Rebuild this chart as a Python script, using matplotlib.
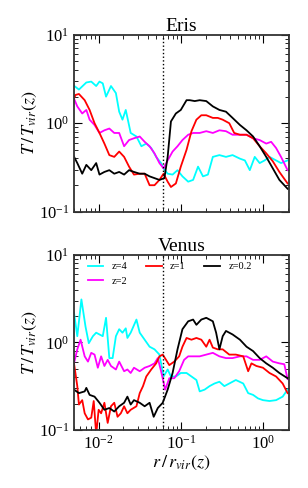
import numpy as np
from matplotlib import pyplot as plt

plt.rcParams['font.family'] = ['Liberation Serif', 'DejaVu Serif']
plt.rcParams['mathtext.fontset'] = 'stix'

# values, stored as log10(r/rvir) and log10(T/Tvir)
eris_z4_lr = [-2.31, -2.24, -2.15, -2.09, -2.03, -1.99, -1.95, -1.91, -1.85, -1.79, -1.75, -1.71, -1.67, -1.61, -1.54,
              -1.48, -1.42, -1.36, -1.30, -1.24, -1.21, -1.16, -1.10, -1.04, -0.98, -0.91, -0.85, -0.79, -0.73, -0.67,
              -0.61, -0.53, -0.45, -0.37, -0.28, -0.22, -0.16, -0.10, -0.04, 0.02, 0.08, 0.16, 0.22, 0.30]
eris_z4_lt = [0.43, 0.38, 0.46, 0.47, 0.42, 0.47, 0.45, 0.30, 0.42, 0.34, 0.13, 0.04, 0.15, -0.11, -0.15,
              -0.26, -0.23, -0.28, -0.38, -0.45, -0.51, -0.57, -0.58, -0.53, -0.60, -0.66, -0.64, -0.49, -0.60, -0.58,
              -0.38, -0.36, -0.38, -0.36, -0.40, -0.42, -0.53, -0.38, -0.45, -0.42, -0.38, -0.42, -0.45, -0.42]

eris_z2_lr = [-2.31, -2.26, -2.20, -2.15, -2.11, -2.05, -1.99, -1.93, -1.87, -1.81, -1.75, -1.69, -1.63, -1.57, -1.50,
              -1.44, -1.38, -1.32, -1.26, -1.21, -1.16, -1.10, -1.04, -0.98, -0.91, -0.85, -0.77, -0.69, -0.61, -0.53,
              -0.45, -0.37, -0.28, -0.20, -0.12, -0.04, 0.04, 0.10, 0.16, 0.22, 0.30]
eris_z2_lt = [0.30, 0.19, 0.11, 0.15, 0.04, -0.02, -0.11, -0.08, -0.06, -0.11, -0.11, -0.26, -0.19, -0.17, -0.15,
              -0.21, -0.26, -0.34, -0.45, -0.51, -0.42, -0.32, -0.26, -0.19, -0.13, -0.11, -0.11, -0.09, -0.11, -0.08,
              -0.09, -0.13, -0.13, -0.13, -0.17, -0.19, -0.23, -0.21, -0.28, -0.38, -0.53]

eris_z1_lr = [-2.31, -2.28, -2.24, -2.17, -2.11, -2.05, -1.99, -1.93, -1.87, -1.81, -1.75, -1.69, -1.63, -1.57, -1.50,
              -1.44, -1.38, -1.32, -1.26, -1.21, -1.16, -1.12, -1.06, -1.00, -0.93, -0.87, -0.81, -0.75, -0.69, -0.61,
              -0.55, -0.49, -0.41, -0.35, -0.28, -0.20, -0.12, -0.04, 0.04, 0.12, 0.20, 0.30]
eris_z1_lt = [0.26, 0.32, 0.33, 0.26, 0.15, 0.00, -0.11, -0.23, -0.36, -0.38, -0.32, -0.38, -0.49, -0.58, -0.57,
              -0.57, -0.70, -0.70, -0.64, -0.57, -0.66, -0.72, -0.68, -0.49, -0.30, -0.09, 0.04, 0.09, 0.09, 0.06,
              0.06, 0.04, 0.00, -0.11, -0.13, -0.13, -0.17, -0.26, -0.34, -0.43, -0.55, -0.68]

eris_z02_lr = [-2.31, -2.26, -2.20, -2.15, -2.09, -2.03, -1.99, -1.93, -1.87, -1.81, -1.75, -1.69, -1.63, -1.57, -1.50,
               -1.44, -1.38, -1.32, -1.26, -1.20, -1.16, -1.12, -1.06, -1.00, -0.93, -0.89, -0.83, -0.77, -0.69, -0.61,
               -0.53, -0.45, -0.37, -0.28, -0.20, -0.12, -0.04, 0.04, 0.12, 0.20, 0.30]
eris_z02_lt = [-0.36, -0.45, -0.57, -0.47, -0.53, -0.45, -0.58, -0.55, -0.53, -0.57, -0.55, -0.58, -0.53, -0.55, -0.57,
               -0.57, -0.60, -0.62, -0.64, -0.62, -0.38, 0.02, 0.11, 0.15, 0.26, 0.26, 0.25, 0.26, 0.25, 0.19,
               0.15, 0.13, 0.06, -0.02, -0.08, -0.15, -0.26, -0.38, -0.51, -0.64, -0.74]

venus_z4_lr = [-2.30, -2.26, -2.21, -2.16, -2.12, -2.07, -2.03, -1.99, -1.95, -1.91, -1.87, -1.83, -1.79, -1.75, -1.71,
               -1.67, -1.65, -1.61, -1.54, -1.50, -1.44, -1.38, -1.32, -1.26, -1.21, -1.16, -1.12, -1.06, -1.00, -0.93,
               -0.87, -0.81, -0.77, -0.71, -0.65, -0.59, -0.53, -0.47, -0.41, -0.33, -0.24, -0.18, -0.12, -0.06, 0.00,
               0.08, 0.16, 0.24, 0.30]
venus_z4_lt = [0.34, 0.07, 0.49, 0.18, -0.01, 0.07, 0.11, 0.09, 0.07, 0.28, -0.18, -0.18, 0.07, 0.15, 0.11,
               0.16, 0.05, 0.11, 0.26, 0.11, 0.03, -0.05, -0.08, -0.14, -0.39, -0.31, -0.39, -0.39, -0.35, -0.35,
               -0.39, -0.43, -0.56, -0.54, -0.50, -0.47, -0.45, -0.50, -0.47, -0.43, -0.47, -0.58, -0.60, -0.64, -0.66,
               -0.67, -0.66, -0.62, -0.54]

venus_z2_lr = [-2.30, -2.26, -2.22, -2.17, -2.13, -2.09, -2.05, -2.01, -1.97, -1.93, -1.89, -1.85, -1.79, -1.75, -1.69,
               -1.65, -1.61, -1.57, -1.50, -1.44, -1.38, -1.32, -1.28, -1.24, -1.19, -1.14, -1.08, -1.02, -0.96, -0.91,
               -0.85, -0.77, -0.69, -0.61, -0.53, -0.45, -0.37, -0.28, -0.20, -0.12, -0.04, 0.04, 0.12, 0.20, 0.26, 0.30]
venus_z2_lt = [-0.24, -0.08, 0.03, -0.16, -0.22, -0.12, -0.14, -0.29, -0.16, -0.27, -0.20, -0.27, -0.31, -0.22, -0.33,
               -0.31, -0.35, -0.29, -0.33, -0.29, -0.27, -0.24, -0.18, -0.33, -0.54, -0.41, -0.41, -0.33, -0.20, -0.16,
               -0.16, -0.16, -0.14, -0.12, -0.16, -0.18, -0.18, -0.16, -0.16, -0.20, -0.20, -0.16, -0.22, -0.24, -0.25, -0.42]

venus_z1_lr = [-2.30, -2.26, -2.24, -2.20, -2.17, -2.13, -2.09, -2.06, -2.03, -2.00, -1.97, -1.93, -1.89, -1.85, -1.81,
               -1.77, -1.73, -1.69, -1.65, -1.61, -1.54, -1.50, -1.46, -1.42, -1.36, -1.30, -1.26, -1.22, -1.18, -1.14,
               -1.08, -1.02, -0.98, -0.93, -0.87, -0.81, -0.75, -0.69, -0.65, -0.61, -0.55, -0.49, -0.41, -0.33, -0.24,
               -0.18, -0.14, -0.08, 0.00, 0.08, 0.16, 0.24, 0.30]
venus_z1_lt = [-0.24, -0.50, -0.71, -0.66, -0.81, -0.88, -0.86, -0.67, -1.05, -0.77, -0.81, -0.69, -0.92, -0.73, -0.69,
               -0.85, -0.81, -0.73, -0.81, -0.77, -0.73, -0.58, -0.50, -0.39, -0.31, -0.24, -0.16, -0.14, -0.20, -0.26,
               -0.22, -0.16, -0.05, 0.05, 0.03, 0.05, 0.03, -0.05, 0.03, -0.06, -0.08, -0.08, -0.14, -0.14, -0.16,
               -0.33, -0.24, -0.27, -0.29, -0.35, -0.39, -0.47, -0.58]

venus_z02_lr = [-2.30, -2.24, -2.17, -2.15, -2.11, -2.05, -1.99, -1.93, -1.87, -1.81, -1.75, -1.69, -1.65, -1.61, -1.57,
                -1.50, -1.44, -1.38, -1.33, -1.28, -1.22, -1.16, -1.10, -1.04, -0.98, -0.91, -0.85, -0.81, -0.75, -0.69,
                -0.61, -0.57, -0.53, -0.49, -0.45, -0.37, -0.28, -0.20, -0.12, -0.04, 0.04, 0.12, 0.20, 0.30]
venus_z02_lt = [-0.54, -0.58, -0.56, -0.52, -0.60, -0.62, -0.69, -0.77, -0.75, -0.79, -0.73, -0.69, -0.62, -0.71, -0.66,
                -0.69, -0.73, -0.69, -0.85, -0.75, -0.69, -0.54, -0.35, -0.08, 0.15, 0.24, 0.26, 0.20, 0.26, 0.28,
                0.24, 0.11, -0.08, 0.07, 0.13, 0.09, 0.03, -0.05, -0.10, -0.18, -0.24, -0.29, -0.35, -0.41]

labels = ['z=4', 'z=2', 'z=1', 'z=0.2']
colors = ['cyan', 'magenta', 'red', 'black']
r_cut = 0.06

eris = [(eris_z4_lr, eris_z4_lt), (eris_z2_lr, eris_z2_lt), (eris_z1_lr, eris_z1_lt), (eris_z02_lr, eris_z02_lt)]
venus = [(venus_z4_lr, venus_z4_lt), (venus_z2_lr, venus_z2_lt), (venus_z1_lr, venus_z1_lt), (venus_z02_lr, venus_z02_lt)]

fig = plt.figure(figsize=(3.08, 4.88), dpi=100)
ax1 = fig.add_axes([0.240, 0.566, 0.698, 0.363])
ax2 = fig.add_axes([0.240, 0.119, 0.698, 0.359])

for ax, runs, name in [(ax1, eris, 'Eris'), (ax2, venus, 'Venus')]:
    for (lr, lt), c, lab in zip(runs, colors, labels):
        ax.plot(10 ** np.array(lr), 10 ** np.array(lt), color=c, lw=1.3, label=lab)
    ax.axvline(r_cut, color='black', ls=':', lw=1.0)
    ax.set_xscale('log')
    ax.set_yscale('log')
    ax.set_xlim(0.005, 2.07)
    ax.set_ylim(0.1, 10)
    ax.set_title(name, fontsize=14, pad=1)
    ax.set_ylabel(r'$T\,/\,T_{vir}(z)$', fontsize=13, labelpad=0)
    ax.tick_params(which='both', direction='in', top=True, right=True, labelsize=12)
    ax.tick_params(which='major', length=6, width=0.8)
    ax.tick_params(which='minor', length=3, width=0.6)
    for s in ax.spines.values():
        s.set_linewidth(1.3)
        s.set_color('#333333')

ax1.tick_params(labelbottom=False)
ax2.set_xlabel(r'$r\,/\,r_{vir}(z)$', fontsize=13, labelpad=1)
ax2.legend(loc='upper left', bbox_to_anchor=(0.03, 1.0), ncol=3, frameon=False, fontsize=7.5,
           handlelength=1.5, handletextpad=0.8, columnspacing=1.8, borderaxespad=0.3)

fig.savefig('out.png', dpi=100)
